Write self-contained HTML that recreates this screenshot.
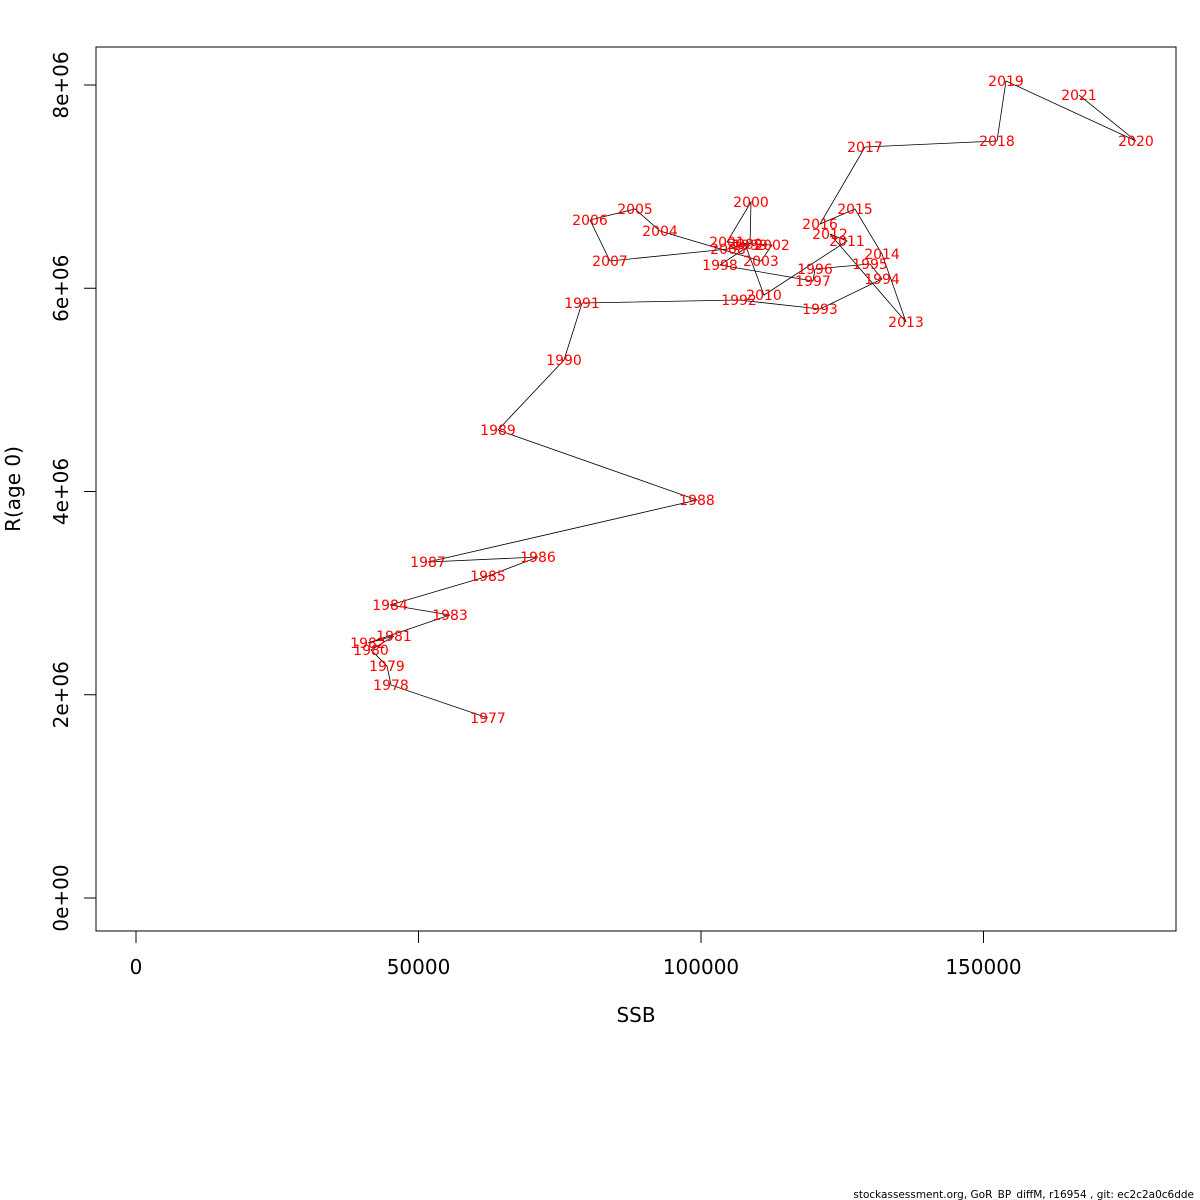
<!DOCTYPE html>
<html><head><meta charset="utf-8"><style>body{margin:0;background:#fff}svg{display:block;font-family:"DejaVu Sans","Liberation Sans",sans-serif}</style></head>
<body>
<svg id="chart" width="1200" height="1200">
<rect x="0" y="0" width="1200" height="1200" fill="#fff"/>
<rect x="96" y="47" width="1080" height="884" fill="none" stroke="#000" stroke-width="1"/>
<g id="xaxis"></g>
<g id="yaxis"></g>
<g id="lines"></g>
<g id="labels"></g>
<text x="636" y="1022" font-size="20" text-anchor="middle">SSB</text>
<text x="20" y="489" font-size="20" text-anchor="middle" transform="rotate(-90 20 489)">R(age 0)</text>
<text x="1194" y="1198" font-size="10.5" text-anchor="end" font-family="DejaVu Sans, sans-serif">stockassessment.org, GoR_BP_diffM, r16954 , git: ec2c2a0c6dde</text>
</svg>
<script>
const years=[1977,1978,1979,1980,1981,1982,1983,1984,1985,1986,1987,1988,1989,1990,1991,1992,1993,1994,1995,1996,1997,1998,1999,2000,2001,2002,2003,2004,2005,2006,2007,2008,2009,2010,2011,2012,2013,2014,2015,2016,2017,2018,2019,2020,2021];
const ssb=[62300,45130,44420,41590,45660,41060,55580,44960,62300,71150,51680,99290,64070,75750,78940,106730,121060,132040,129910,120180,119820,103360,108670,108850,104600,112570,110620,92740,88320,80350,83890,104780,107790,111150,125840,122830,136280,132040,127260,121060,129020,152390,153980,176990,166900];
const rec=[1.771e6,2.096e6,2.283e6,2.440e6,2.578e6,2.509e6,2.785e6,2.883e6,3.168e6,3.355e6,3.306e6,3.916e6,4.605e6,5.294e6,5.855e6,5.884e6,5.796e6,6.091e6,6.239e6,6.189e6,6.071e6,6.229e6,6.425e6,6.849e6,6.455e6,6.425e6,6.268e6,6.563e6,6.780e6,6.672e6,6.268e6,6.386e6,6.435e6,5.933e6,6.465e6,6.534e6,5.668e6,6.337e6,6.780e6,6.632e6,7.390e6,7.449e6,8.039e6,7.449e6,7.901e6];
const xTicks=[0,50000,100000,150000];
const xTickLabels=["0","50000","100000","150000"];
const yTicks=[0,2e6,4e6,6e6,8e6];
const yTickLabels=["0e+00","2e+06","4e+06","6e+06","8e+06"];
const NS="http://www.w3.org/2000/svg";
const X=v=>136+v/50000*282.5;
const Y=v=>898-v/2e6*203.25;
function mk(tag,attrs,parent){const e=document.createElementNS(NS,tag);for(const k in attrs)e.setAttribute(k,attrs[k]);parent.appendChild(e);return e;}
const xa=document.getElementById('xaxis'),ya=document.getElementById('yaxis');
mk('line',{x1:X(0),x2:X(150000),y1:931,y2:931,stroke:'#000'},xa);
xTicks.forEach((t,i)=>{
  const l=mk('line',{x1:X(t),x2:X(t),y1:931,y2:943,stroke:'#000'},xa);
  
  
  const tx=mk('text',{x:X(t),y:974,'font-size':20,'text-anchor':'middle'},xa);
  tx.textContent=xTickLabels[i];
  
  
});
mk('line',{x1:96,x2:96,y1:Y(0),y2:Y(8e6),stroke:'#000'},ya);
yTicks.forEach((t,i)=>{
  const l=mk('line',{x1:84,x2:96,y1:Y(t),y2:Y(t),stroke:'#000'},ya);
  
  
  const tx=mk('text',{x:68,y:Y(t),'font-size':20,'text-anchor':'middle',transform:`rotate(-90 68 ${Y(t)})`},ya);
  tx.textContent=yTickLabels[i];
  
  
});
const pts=ssb.map((s,i)=>X(s).toFixed(1)+','+Y(rec[i]).toFixed(1)).join(' ');
const pl=mk('polyline',{points:pts,fill:'none',stroke:'#000','stroke-width':0.8},document.getElementById('lines'));


const lg=document.getElementById('labels');
years.forEach((yr,i)=>{
  const t=mk('text',{x:X(ssb[i]),y:Y(rec[i])+5,'font-size':14,fill:'#ff0000','text-anchor':'middle'},lg);
  t.textContent=yr;
  
  
});
</script>
</body></html>
